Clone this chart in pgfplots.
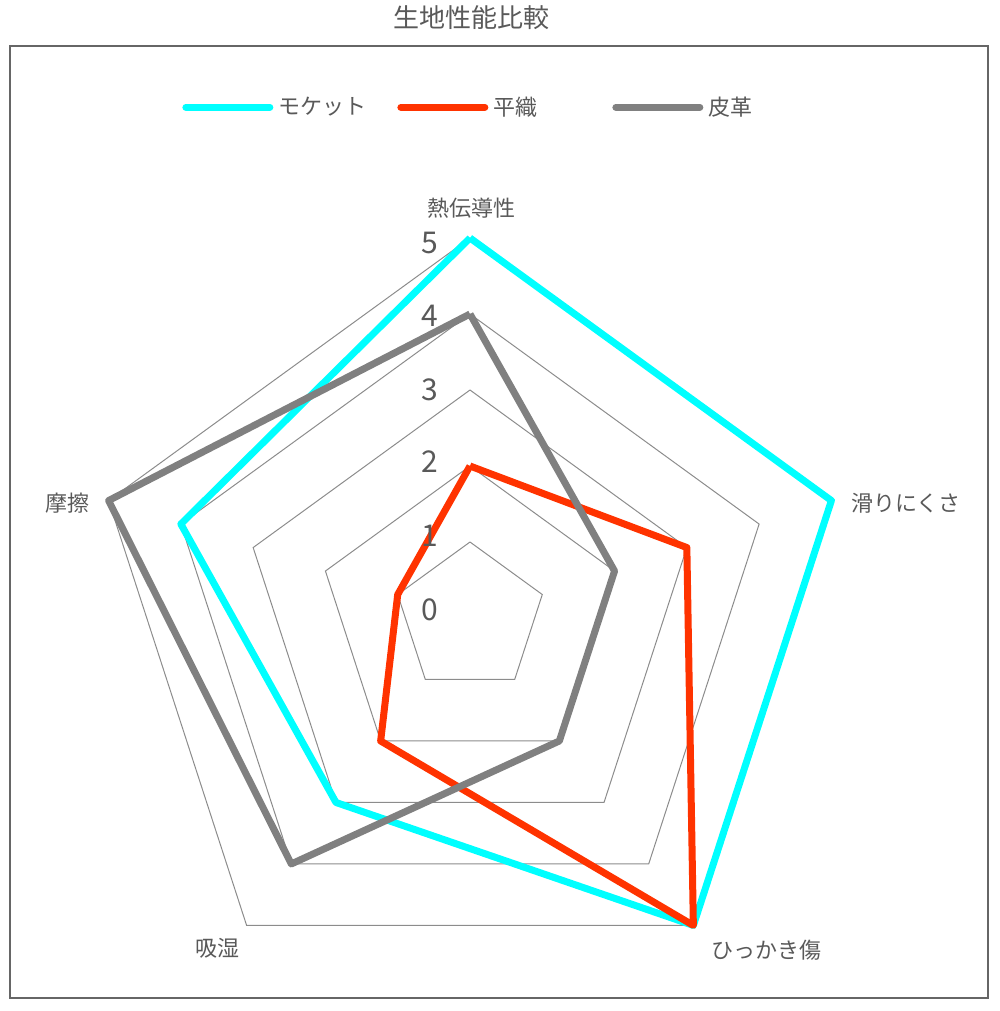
\documentclass[border=0pt]{standalone}
\usepackage{fontspec}
\setmainfont{Noto Sans CJK JP}
\usepackage{pgfplots}
\pgfplotsset{compat=1.18}
\usepgfplotslibrary{polar}

\definecolor{txt}{HTML}{595959}
\definecolor{moket}{HTML}{00FFFF}
\definecolor{hiraori}{HTML}{FF3300}
\definecolor{hikaku}{HTML}{808080}
\definecolor{gridc}{HTML}{8C8C8C}

\begin{document}
\begin{tikzpicture}
\useasboundingbox (0,0) rectangle (500pt,-505.5pt);
\draw[black!60, line width=0.8pt] (5pt,-23pt) rectangle (494pt,-499pt);
\node[txt, font=\fontsize{13}{15}\selectfont] at (235.5pt,-9pt) {生地性能比較};

% category labels
\begin{scope}[every node/.style={txt, font=\fontsize{11}{13}\selectfont}]
\node at (235.5pt,-104pt) {熱伝導性};
\node[anchor=west] at (422pt,-251.5pt) {滑りにくさ};
\node[anchor=west] at (352pt,-475pt) {ひっかき傷};
\node at (108.75pt,-474pt) {吸湿};
\node[anchor=east] at (48.5pt,-251.5pt) {摩擦};
\end{scope}

\begin{polaraxis}[
  at={(235pt,-309pt)}, anchor=center,
  width=380pt, height=380pt, scale only axis,
  xmin=0, xmax=360, ymin=0, ymax=5,
  hide axis, clip=false,
  legend columns=3,
  legend style={at={(0.121,1.172)}, anchor=west, draw=none, fill=none,
    inner sep=0pt, text=txt, font=\fontsize{11}{13}\selectfont,
    nodes={inner sep=2.5pt},
    /tikz/every even column/.append style={column sep=17pt}},
  legend image code/.code={\draw[#1, line cap=round] (0pt,0pt) -- (42pt,0pt);},
]
% pentagon grid
\addplot[gridc, line width=0.5pt, forget plot] coordinates {(90,1) (18,1) (306,1) (234,1) (162,1) (90,1)};
\addplot[gridc, line width=0.5pt, forget plot] coordinates {(90,2) (18,2) (306,2) (234,2) (162,2) (90,2)};
\addplot[gridc, line width=0.5pt, forget plot] coordinates {(90,3) (18,3) (306,3) (234,3) (162,3) (90,3)};
\addplot[gridc, line width=0.5pt, forget plot] coordinates {(90,4) (18,4) (306,4) (234,4) (162,4) (90,4)};
\addplot[gridc, line width=0.5pt, forget plot] coordinates {(90,5) (18,5) (306,5) (234,5) (162,5) (90,5)};

% data: 熱伝導性, 滑りにくさ, ひっかき傷, 吸湿, 摩擦
\addplot[moket, line width=3.5pt, line join=round, no marks] coordinates {(90,5) (18,5) (306,5) (234,3) (162,4) (90,5)};
\addlegendentry{\makebox[40pt][l]{モケット}}
\addplot[hiraori, line width=3.5pt, line join=round, no marks] coordinates {(90,2) (18,3) (306,5) (234,2) (162,1) (90,2)};
\addlegendentry{\makebox[40pt][l]{平織}}
\addplot[hikaku, line width=3.5pt, line join=round, no marks] coordinates {(90,4) (18,2) (306,2) (234,4) (162,5) (90,4)};
\addlegendentry{\makebox[40pt][l]{皮革}}

% radial value labels
\node[txt, font=\fontsize{15}{17}\selectfont, xshift=-20pt, yshift=4pt] at (axis cs:90,0) {0};
\node[txt, font=\fontsize{15}{17}\selectfont, xshift=-20pt, yshift=3pt] at (axis cs:90,1) {1};
\node[txt, font=\fontsize{15}{17}\selectfont, xshift=-20pt, yshift=2pt] at (axis cs:90,2) {2};
\node[txt, font=\fontsize{15}{17}\selectfont, xshift=-20pt, yshift=0pt] at (axis cs:90,3) {3};
\node[txt, font=\fontsize{15}{17}\selectfont, xshift=-20pt, yshift=-1pt] at (axis cs:90,4) {4};
\node[txt, font=\fontsize{15}{17}\selectfont, xshift=-20pt, yshift=-2.5pt] at (axis cs:90,5) {5};
\end{polaraxis}
\end{tikzpicture}
\end{document}
